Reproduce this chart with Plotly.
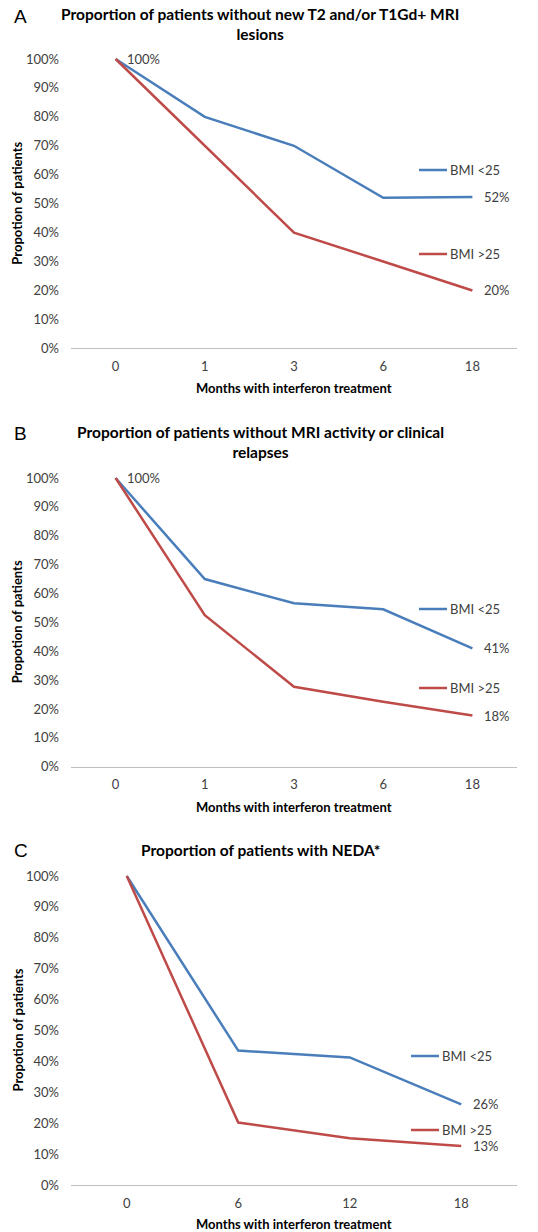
import plotly.graph_objects as go

# ---------------- data ----------------
cats_ab = ["0", "1", "3", "6", "18"]
cats_c = ["0", "6", "12", "18"]

a_bmi_low = [1.00, 0.80, 0.70, 0.52, 0.523]
a_bmi_high = [1.00, 0.70, 0.40, 0.30, 0.20]

b_bmi_low = [1.00, 0.65, 0.566, 0.545, 0.41]
b_bmi_high = [1.00, 0.525, 0.277, 0.225, 0.177]

c_bmi_low = [1.00, 0.435, 0.413, 0.261]
c_bmi_high = [1.00, 0.202, 0.151, 0.126]

titles = ["Proportion of patients without new T2 and/or T1Gd+ MRI<br>lesions",
          "Proportion of patients without MRI activity or clinical<br>relapses",
          "Proportion of patients with NEDA*"]
letters = ["A", "B", "C"]
series_names = ["BMI <25", "BMI >25"]
y_ticks = [0, 0.1, 0.2, 0.3, 0.4, 0.5, 0.6, 0.7, 0.8, 0.9, 1.0]
x_title = "Months with interferon treatment"
y_title = "Propotion of patients"

# ---------------- layout geometry ----------------
W, H = 538, 1232
OFF = 0  # body margin removed via post_script
BLUE = "#4A7EBB"
RED = "#BE4B48"
TXT = "#404040"
FONT = "Lato, 'Open Sans', sans-serif"

def fy(px):
    return 1 - (px - OFF) / H

def fx(px):
    return (px - OFF) / W

YMAX = 1.05
panels = [
    dict(cats=cats_ab, low=a_bmi_low, high=a_bmi_high, y0=348.3, y100=59.0, start_label=True,
         title_y=[12, 31], letter_y=16, xt_y=388, leg_y=[170, 254], leg_x=419),
    dict(cats=cats_ab, low=b_bmi_low, high=b_bmi_high, y0=766.7, y100=478.0, start_label=True,
         title_y=[430, 450], letter_y=433, xt_y=806.5, leg_y=[609, 688], leg_x=419),
    dict(cats=cats_c, low=c_bmi_low, high=c_bmi_high, y0=1185.0, y100=876.0, start_label=False,
         title_y=[848], letter_y=850, xt_y=1224, leg_y=[1056, 1130], leg_x=411),
]

fig = go.Figure()
annotations = []
shapes = []
X0, X1 = 71, 517

for i, p in enumerate(panels):
    n = i + 1
    xa = "x" if n == 1 else f"x{n}"
    ya = "y" if n == 1 else f"y{n}"
    scale = p["y0"] - p["y100"]
    top_px = p["y0"] - YMAX * scale
    idx = list(range(len(p["cats"])))
    fig.add_trace(go.Scatter(x=idx, y=p["low"], mode="lines", name=series_names[0],
                             line=dict(color=BLUE, width=2.5), xaxis=xa, yaxis=ya,
                             showlegend=False, hoverinfo="skip"))
    fig.add_trace(go.Scatter(x=idx, y=p["high"], mode="lines", name=series_names[1],
                             line=dict(color=RED, width=2.5), xaxis=xa, yaxis=ya,
                             showlegend=False, hoverinfo="skip"))
    xkey = "xaxis" if n == 1 else f"xaxis{n}"
    ykey = "yaxis" if n == 1 else f"yaxis{n}"
    ncat = len(p["cats"])
    fig.layout[xkey] = dict(domain=[fx(X0), fx(X1)], anchor=ya,
                            range=[-0.5, ncat - 0.5], tickvals=idx, ticktext=p["cats"],
                            showgrid=False, zeroline=False, automargin=False,
                            showline=True, linecolor="#BFBFBF", linewidth=1,
                            ticks="", tickfont=dict(family=FONT, size=13, color=TXT),
                            ticklabelstandoff=6, fixedrange=True)
    fig.layout[ykey] = dict(domain=[fy(p["y0"]), fy(top_px)], anchor=xa,
                            range=[0, YMAX], tickvals=y_ticks, automargin=False,
                            ticktext=[f"{int(round(v*100))}%" for v in y_ticks],
                            showgrid=False, zeroline=False, showline=False, ticks="",
                            ticklabelstandoff=11, fixedrange=True,
                            tickfont=dict(family=FONT, size=13, color=TXT))
    # data labels
    if p["start_label"]:
        annotations.append(dict(x=idx[0], y=p["low"][0], xref=xa, yref=ya,
                                text=f"{int(round(p['low'][0]*100))}%", showarrow=False,
                                xanchor="left", yanchor="middle", xshift=9,
                                font=dict(family=FONT, size=13, color=TXT)))
    annotations.append(dict(x=idx[-1], y=p["low"][-1], xref=xa, yref=ya,
                            text=f"{int(round(p['low'][-1]*100))}%", showarrow=False,
                            xanchor="left", yanchor="middle", xshift=10,
                            font=dict(family=FONT, size=13, color=TXT)))
    annotations.append(dict(x=idx[-1], y=p["high"][-1], xref=xa, yref=ya,
                            text=f"{int(round(p['high'][-1]*100))}%", showarrow=False,
                            xanchor="left", yanchor="middle", xshift=10,
                            font=dict(family=FONT, size=13, color=TXT)))
    # title
    annotations.append(dict(x=fx(260), y=fy(p["title_y"][0] - 9), xref="paper", yref="paper",
                            text="<b>" + titles[i] + "</b>", showarrow=False,
                            xanchor="center", yanchor="top",
                            font=dict(family=FONT, size=15.5, color="#000000")))
    # panel letter
    annotations.append(dict(x=fx(12), y=fy(p["letter_y"]), xref="paper", yref="paper",
                            text=letters[i], showarrow=False, xanchor="left", yanchor="middle",
                            font=dict(family="Liberation Sans, Arial", size=19, color="#000000")))
    # axis titles
    annotations.append(dict(x=fx(17), y=fy((p["y0"] + p["y100"]) / 2), xref="paper", yref="paper",
                            text="<b>" + y_title + "</b>", showarrow=False, textangle=-90,
                            xanchor="center", yanchor="middle",
                            font=dict(family=FONT, size=13, color="#000000")))
    annotations.append(dict(x=fx((X0 + X1) / 2), y=fy(p["xt_y"]), xref="paper", yref="paper",
                            text="<b>" + x_title + "</b>", showarrow=False,
                            xanchor="center", yanchor="middle",
                            font=dict(family=FONT, size=13, color="#000000")))
    # inline legend
    for ly, col, name in zip(p["leg_y"], [BLUE, RED], series_names):
        shapes.append(dict(type="line", xref="paper", yref="paper",
                           x0=fx(p["leg_x"]), x1=fx(p["leg_x"] + 28), y0=fy(ly), y1=fy(ly),
                           line=dict(color=col, width=2.5)))
        annotations.append(dict(x=fx(p["leg_x"] + 29), y=fy(ly), xref="paper", yref="paper",
                                text=name, showarrow=False, xanchor="left", yanchor="middle",
                                font=dict(family=FONT, size=13, color=TXT)))

fig.update_layout(width=W, height=H, margin=dict(l=0, r=0, t=0, b=0, autoexpand=False),
                  paper_bgcolor="white", plot_bgcolor="white",
                  annotations=annotations, shapes=shapes, showlegend=False)

fig.write_html("out.html", config={"displayModeBar": False},
               post_script="document.body.style.margin='0';document.body.style.padding='0';document.body.style.overflow='hidden';")
